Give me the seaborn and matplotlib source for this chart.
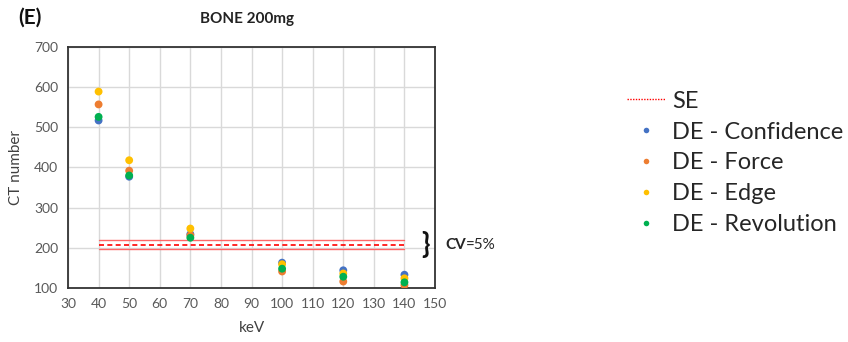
import matplotlib
matplotlib.use("Agg")
import matplotlib.pyplot as plt
from matplotlib.lines import Line2D
import seaborn as sns
import pandas as pd

# ---- data ----
kev = [40, 50, 70, 100, 120, 140]
confidence = [517, 377, 234, 163, 144, 133]
force = [557, 392, 231, 141, 116, 107]
edge = [589, 418, 248, 159, 136, 124]
revolution = [526, 380, 225, 148, 128, 114]
series_names = ["DE - Confidence", "DE - Force", "DE - Edge", "DE - Revolution"]
se_value = 208
cv = 0.05
se_range = [40, 140]
x_ticks = list(range(30, 151, 10))
y_ticks = list(range(100, 701, 100))

colors = ["#4472C4", "#ED7D31", "#FFC000", "#00B050"]

rows = []
for name, vals in zip(series_names, [confidence, force, edge, revolution]):
    for k, v in zip(kev, vals):
        rows.append({"keV": k, "CT number": v, "series": name})
df = pd.DataFrame(rows)

sns.set_style("white")
plt.rcParams['font.family'] = ['Lato', 'DejaVu Sans']

fig = plt.figure(figsize=(8.48, 3.42), dpi=100)
ax = fig.add_axes([0.0802, 0.158, 0.4328, 0.7046])

# SE lines
ax.plot(se_range, [se_value, se_value], color="#FF0000", linestyle=(0, (3, 2)), linewidth=1.2, zorder=2)
ax.plot(se_range, [se_value * (1 + cv)] * 2, color="#FF6666", linewidth=1.0, zorder=2)
ax.plot(se_range, [se_value * (1 - cv)] * 2, color="#FF6666", linewidth=1.0, zorder=2)

sns.scatterplot(data=df, x="keV", y="CT number", hue="series", hue_order=series_names,
                palette=colors, s=32, edgecolor="none", ax=ax, legend=False, zorder=3)

ax.set_xlim(30, 150)
ax.set_ylim(100, 700)
ax.set_xticks(x_ticks)
ax.set_yticks(y_ticks)
ax.grid(True, color="#D9D9D9", linewidth=1.0)
ax.set_axisbelow(True)
for sp in ax.spines.values():
    sp.set_visible(True)
    sp.set_color("#333333")
    sp.set_linewidth(1.3)
ax.tick_params(axis="both", length=0, labelsize=10, labelcolor="#595959", pad=7)
ax.set_xlabel("keV", fontsize=11, color="#404040", labelpad=8)
ax.set_ylabel("CT number", fontsize=11, color="#404040", labelpad=8)

ax.set_title("BONE 200mg", fontsize=11, fontweight="bold", color="#222222", pad=17, x=0.487)
fig.text(0.022, 0.948, "(E)", fontsize=15, fontweight="bold", color="#111111", va="center")

# CV bracket annotation
ax.text(146.8, se_value, "}", fontsize=20, fontweight="bold", ha="center", va="center",
        clip_on=False, color="#111111")
t = ax.text(1.027, se_value, "CV", transform=ax.get_yaxis_transform(), fontsize=11,
            fontweight="bold", va="center", ha="left", clip_on=False)
ax.annotate("=5%", xy=(1, 0.5), xycoords=t, va="center", ha="left", fontsize=11)

handles = [Line2D([0], [0], color="#FF0000", linestyle=(0, (1, 1)), linewidth=1.0)]
for c in colors:
    handles.append(Line2D([0], [0], marker="o", linestyle="none", markersize=4,
                          markerfacecolor=c, markeredgecolor="none"))
labels = ["SE"] + series_names
fig.legend(handles, labels, loc="upper left", bbox_to_anchor=(0.739, 0.735), frameon=False,
           fontsize=17, labelspacing=0.42, handlelength=1.62, handletextpad=0.3,
           borderaxespad=0, borderpad=0)

fig.savefig("out.png", dpi=100)
